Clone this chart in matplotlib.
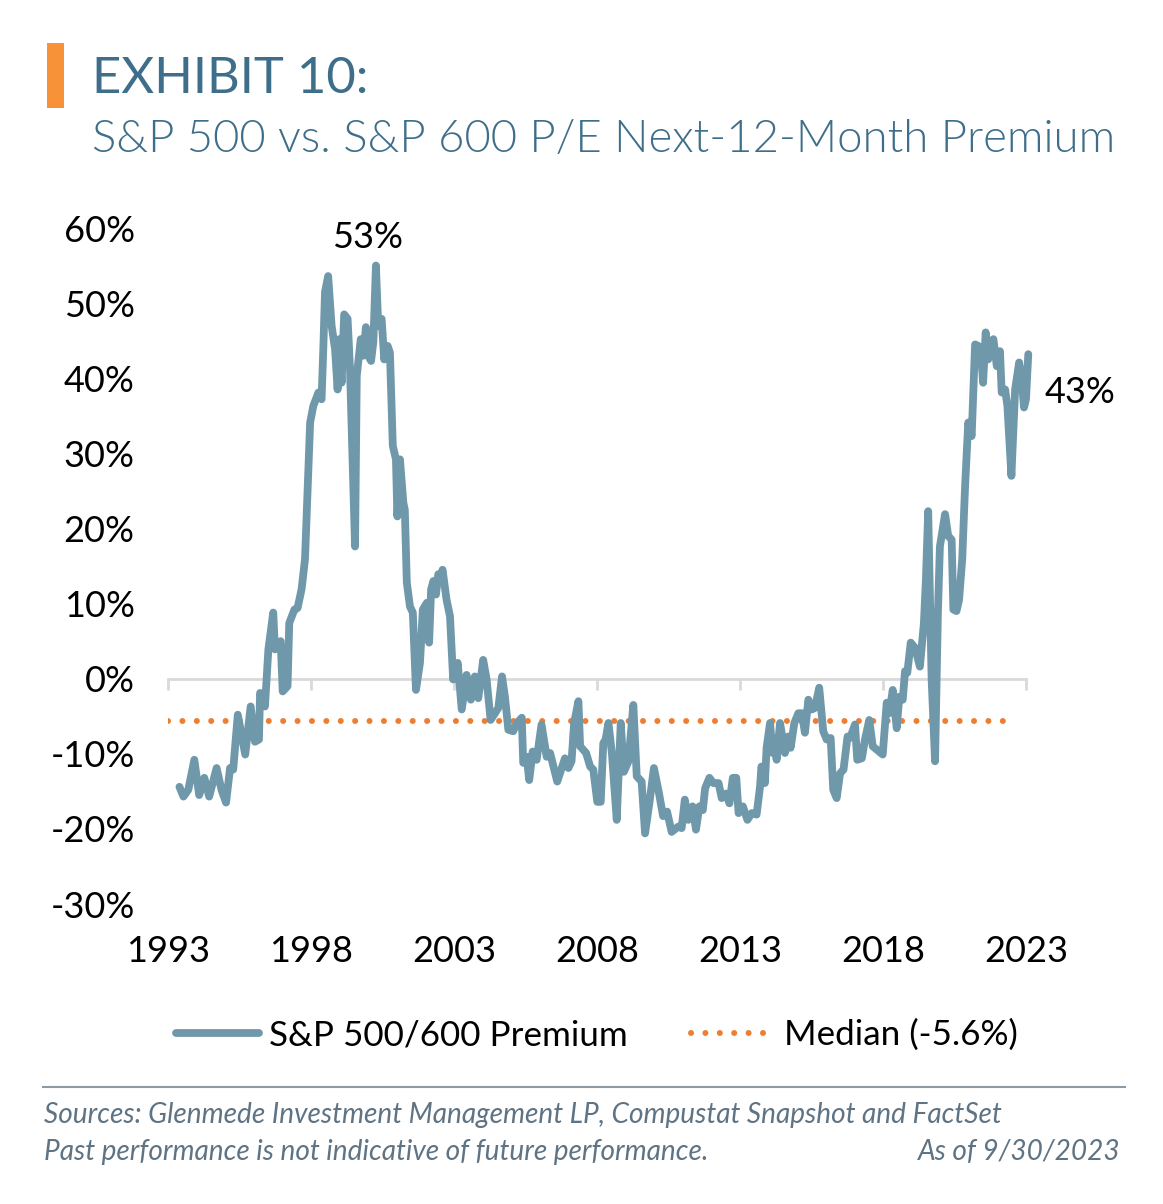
import matplotlib
matplotlib.use("Agg")
import matplotlib.pyplot as plt
from matplotlib.lines import Line2D
from matplotlib.patches import Rectangle
from matplotlib.ticker import FuncFormatter

plt.rcParams['font.family'] = ['Lato', 'DejaVu Sans']

# data (decimal year, premium in %)
years = [1993.40, 1993.54, 1993.71, 1993.92, 1994.09, 1994.27, 1994.44, 1994.70, 1994.87, 1995.03,
         1995.17, 1995.28, 1995.44, 1995.70, 1995.89, 1996.04, 1996.18, 1996.22, 1996.39, 1996.51,
         1996.68, 1996.74, 1996.94, 1997.01, 1997.18, 1997.24, 1997.42, 1997.53, 1997.67, 1997.79,
         1997.97, 1998.08, 1998.26, 1998.37, 1998.43, 1998.49, 1998.60, 1998.72, 1998.84, 1998.93,
         1998.99, 1999.07, 1999.16, 1999.28, 1999.36, 1999.54, 1999.60, 1999.74, 1999.83, 1999.92,
         2000.00, 2000.10, 2000.18, 2000.27, 2000.35, 2000.47, 2000.56, 2000.68, 2000.76, 2000.86,
         2000.97, 2001.02, 2001.11, 2001.23, 2001.28, 2001.35, 2001.46, 2001.56, 2001.67, 2001.81,
         2001.91, 2002.05, 2002.13, 2002.20, 2002.28, 2002.37, 2002.45, 2002.52, 2002.60, 2002.74,
         2002.86, 2002.97, 2003.13, 2003.27, 2003.44, 2003.59, 2003.73, 2003.85, 2004.02, 2004.14,
         2004.28, 2004.43, 2004.55, 2004.68, 2004.78, 2004.90, 2005.07, 2005.20, 2005.37, 2005.42,
         2005.54, 2005.63, 2005.75, 2005.89, 2006.06, 2006.24, 2006.36, 2006.61, 2006.88, 2007.00,
         2007.11, 2007.20, 2007.35, 2007.41, 2007.62, 2007.76, 2007.87, 2008.01, 2008.13, 2008.22,
         2008.30, 2008.40, 2008.52, 2008.69, 2008.83, 2008.94, 2009.10, 2009.27, 2009.39, 2009.56,
         2009.68, 2009.83, 2009.99, 2010.17, 2010.31, 2010.45, 2010.61, 2010.84, 2010.96, 2011.07,
         2011.19, 2011.34, 2011.46, 2011.58, 2011.70, 2011.78, 2011.93, 2012.07, 2012.25, 2012.36,
         2012.52, 2012.63, 2012.75, 2012.87, 2012.95, 2013.10, 2013.26, 2013.41, 2013.58, 2013.70,
         2013.75, 2013.87, 2013.93, 2014.05, 2014.14, 2014.21, 2014.28, 2014.40, 2014.57, 2014.69,
         2014.77, 2014.90, 2015.04, 2015.16, 2015.27, 2015.39, 2015.51, 2015.62, 2015.77, 2015.91,
         2016.03, 2016.17, 2016.26, 2016.38, 2016.50, 2016.62, 2016.76, 2016.85, 2017.02, 2017.10,
         2017.26, 2017.37, 2017.52, 2017.64, 2017.80, 2017.99, 2018.13, 2018.22, 2018.34, 2018.48,
         2018.57, 2018.69, 2018.77, 2018.85, 2018.97, 2019.12, 2019.29, 2019.43, 2019.50, 2019.58,
         2019.70, 2019.82, 2019.92, 2019.99, 2020.17, 2020.28, 2020.40, 2020.46, 2020.57, 2020.66,
         2020.77, 2020.87, 2020.98, 2021.10, 2021.22, 2021.33, 2021.45, 2021.50, 2021.59, 2021.68,
         2021.76, 2021.86, 2021.98, 2022.09, 2022.15, 2022.27, 2022.35, 2022.49, 2022.62, 2022.76,
         2022.85, 2022.93, 2023.00, 2023.08]
premium = [-14.4, -15.7, -14.8, -10.8, -15.5, -13.2, -15.7, -11.9, -14.8, -16.5,
           -11.9, -12.1, -4.8, -10.1, -3.7, -8.4, -8.1, -1.9, -3.7, 3.9,
           8.8, 3.9, 5.0, -1.7, -1.0, 7.4, 9.2, 9.4, 11.9, 15.9,
           34.1, 36.3, 38.1, 37.2, 43.9, 51.5, 53.6, 47.0, 43.9, 38.5,
           45.2, 39.4, 48.5, 47.9, 41.6, 17.6, 40.3, 45.2, 43.0, 46.8,
           43.0, 42.3, 44.8, 55.0, 47.0, 47.9, 42.5, 44.3, 43.4, 31.0,
           29.2, 21.6, 29.2, 23.4, 22.5, 12.8, 9.6, 8.8, -1.5, 2.1,
           9.2, 10.1, 4.8, 11.9, 13.0, 11.2, 13.9, 13.4, 14.5, 10.5,
           8.3, -0.1, 2.1, -4.1, 0.5, -2.8, 0.3, -2.6, 2.5, -0.1,
           -5.5, -4.6, -3.9, 0.3, -2.4, -6.8, -7.0, -5.9, -5.2, -11.2,
           -10.4, -13.5, -9.7, -10.8, -6.1, -10.4, -9.9, -13.7, -10.6, -11.9,
           -11.0, -5.9, -3.0, -9.0, -9.9, -11.7, -12.1, -16.4, -16.4, -8.6,
           -8.1, -5.9, -9.9, -18.8, -5.9, -12.4, -11.0, -3.5, -13.0, -13.7,
           -20.6, -16.6, -11.9, -15.3, -18.3, -17.7, -20.4, -19.7, -19.9, -16.1,
           -18.8, -17.0, -20.1, -17.0, -17.5, -14.6, -13.2, -13.9, -13.9, -15.9,
           -15.3, -16.6, -13.2, -13.2, -17.9, -17.0, -18.8, -17.9, -18.1, -14.4,
           -11.7, -13.9, -9.2, -5.9, -9.9, -8.6, -10.8, -5.9, -9.9, -7.7,
           -9.2, -5.9, -4.6, -4.6, -7.2, -2.8, -4.1, -3.9, -1.2, -7.0,
           -8.1, -7.9, -14.8, -15.9, -12.6, -12.1, -7.7, -7.9, -6.1, -10.8,
           -10.6, -8.1, -5.5, -9.0, -9.5, -10.1, -3.2, -4.6, -1.5, -6.6,
           -2.4, -2.8, 1.0, 0.8, 4.8, 4.1, 1.6, 7.4, 13.2, 22.3,
           -0.1, -11.0, 8.8, 17.6, 21.9, 19.0, 18.5, 9.2, 9.0, 10.5,
           15.9, 25.6, 34.1, 32.3, 44.5, 44.3, 42.1, 39.4, 46.1, 42.5,
           44.8, 45.2, 41.6, 43.6, 38.1, 38.5, 36.3, 27.0, 38.5, 42.1,
           39.9, 36.1, 37.2, 43.2]
median = -5.6
median_end = 2022.3
year_ticks = [1993, 1998, 2003, 2008, 2013, 2018, 2023]
pct_ticks = [-30, -20, -10, 0, 10, 20, 30, 40, 50, 60]

LINE = '#6F98AA'
ORANGE = '#ED7D31'
TITLE = '#3F6E8A'
FOOT = '#5E7384'
AXC = '#D9D9D9'

W, H = 1163, 1204
fig = plt.figure(figsize=(W / 100, H / 100), dpi=100)

ax = fig.add_axes([168 / W, 1 - 904 / H, 858 / W, 676 / H])
ax.plot(years, premium, color=LINE, lw=5.6, solid_joinstyle='round',
        solid_capstyle='round', clip_on=False, label='S&P 500/600 Premium', zorder=3)
ax.plot([year_ticks[0], median_end], [median, median], color=ORANGE, lw=4.3,
        linestyle=(0, (0.01, 2.4)), dash_capstyle='round', label='Median (-5.6%)', zorder=2)

ax.set_xlim(1993, 2023)
ax.set_ylim(-30, 60)
for s in ['top', 'right', 'left']:
    ax.spines[s].set_visible(False)
ax.spines['bottom'].set_position(('data', 0))
ax.spines['bottom'].set_color(AXC)
ax.spines['bottom'].set_linewidth(2)
ax.set_xticks(year_ticks)
ax.tick_params(axis='x', direction='out', length=8, width=2, color=AXC, labelbottom=False)
ax.set_yticks(pct_ticks)
ax.yaxis.set_major_formatter(FuncFormatter(lambda v, p: f'{v:.0f}%'))
ax.tick_params(axis='y', length=0, pad=24, labelsize=26)

sec = ax.secondary_xaxis('bottom')
sec.set_xticks(year_ticks)
sec.set_xticklabels([str(y) for y in year_ticks])
sec.spines['bottom'].set_visible(False)
sec.tick_params(length=0, pad=22, labelsize=26)

# peak and last value labels
i_max = premium.index(max(premium))
ax.annotate(f'{round(premium[i_max] - 2):.0f}%', (years[i_max], premium[i_max]),
            xytext=(-8, 28), textcoords='offset pixels', ha='center', va='center',
            fontsize=26, annotation_clip=False)
ax.annotate(f'{premium[-1]:.0f}%', (years[-1], premium[-1]),
            xytext=(16, -38), textcoords='offset pixels', ha='left', va='center',
            fontsize=26, annotation_clip=False)

# legend
leg = fig.legend(loc='center', bbox_to_anchor=(597 / W, 1 - 1035 / H), ncol=2, frameon=False,
                 fontsize=25.2, handlelength=2.35, handletextpad=0.3, columnspacing=1.8)

# title
fig.add_artist(Rectangle((47 / W, 1 - 108 / H), 17 / W, 65 / H, transform=fig.transFigure,
                         color='#F79239', lw=0))
fig.text(92 / W, 1 - 93 / H, 'EXHIBIT 10:', fontsize=36.5, color=TITLE, ha='left', va='baseline')
fig.text(92 / W, 1 - 152 / H, 'S&P 500 vs. S&P 600 P/E Next-12-Month Premium', fontsize=32.8,
         color=TITLE, fontweight=300, ha='left', va='baseline')

# footer
fig.add_artist(Line2D([43 / W, 1125 / W], [1 - 1087 / H, 1 - 1087 / H], transform=fig.transFigure,
                      color='#8C9AA6', lw=1.5))
fig.text(44 / W, 1 - 1115 / H, 'Sources: Glenmede Investment Management LP, Compustat Snapshot and FactSet',
         fontsize=20.2, style='italic', color=FOOT, ha='left', va='center')
fig.text(44 / W, 1 - 1152 / H, 'Past performance is not indicative of future performance.',
         fontsize=20.2, style='italic', color=FOOT, ha='left', va='center')
fig.text(1121 / W, 1 - 1152 / H, 'As of 9/30/2023',
         fontsize=20.2, style='italic', color=FOOT, ha='right', va='center')

fig.savefig('out.png', dpi=100, facecolor='white')
